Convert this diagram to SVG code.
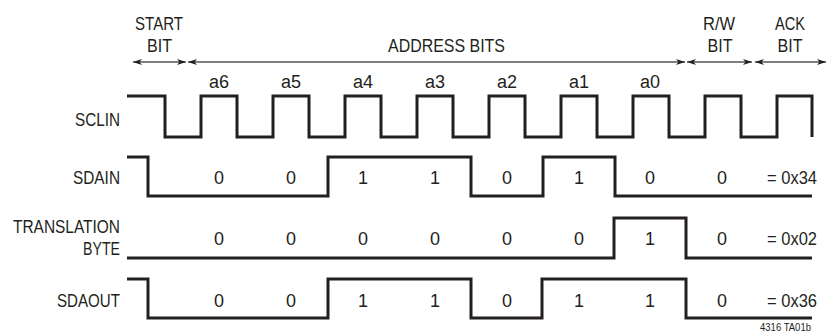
<svg xmlns="http://www.w3.org/2000/svg" width="832" height="333" viewBox="0 0 832 333">
<style>
text{font-family:"Liberation Sans",Arial,sans-serif;fill:#231f20;font-size:19px}
.m{text-anchor:middle}
.e{text-anchor:end}
.d{text-anchor:middle;font-size:18px}
.s{font-size:11px;text-anchor:end}
.sig{fill:none;stroke:#231f20;stroke-width:3;stroke-linejoin:miter;stroke-linecap:butt}
.arr{fill:none;stroke:#555;stroke-width:1.3}
</style>
<defs>
<marker id="ah" markerUnits="userSpaceOnUse" markerWidth="10" markerHeight="6" refX="9" refY="3" orient="auto-start-reverse">
<path d="M0,0 L9,3 L0,6 L2.5,3 Z" fill="#231f20"/>
</marker>
</defs>
<g id="headers">
<text class="m" x="159" y="30" textLength="48" lengthAdjust="spacingAndGlyphs">START</text>
<text class="m" x="159.5" y="52" textLength="25" lengthAdjust="spacingAndGlyphs">BIT</text>
<text class="m" x="446.5" y="52" textLength="117" lengthAdjust="spacingAndGlyphs">ADDRESS BITS</text>
<text class="m" x="719" y="30" textLength="32" lengthAdjust="spacingAndGlyphs">R/W</text>
<text class="m" x="720" y="52" textLength="25" lengthAdjust="spacingAndGlyphs">BIT</text>
<text class="m" x="790" y="30" textLength="30" lengthAdjust="spacingAndGlyphs">ACK</text>
<text class="m" x="790" y="52" textLength="25" lengthAdjust="spacingAndGlyphs">BIT</text>
</g>
<g id="connectors">
<line class="arr" x1="133" y1="62" x2="186" y2="62" marker-start="url(#ah)" marker-end="url(#ah)"/>
<line class="arr" x1="188" y1="62" x2="685" y2="62" marker-start="url(#ah)" marker-end="url(#ah)"/>
<line class="arr" x1="687" y1="62" x2="752" y2="62" marker-start="url(#ah)" marker-end="url(#ah)"/>
<line class="arr" x1="755" y1="62" x2="826" y2="62" marker-start="url(#ah)" marker-end="url(#ah)"/>
</g>
<g id="bitlabels">
<text class="d" x="219" y="88">a6</text>
<text class="d" x="291" y="88">a5</text>
<text class="d" x="363" y="88">a4</text>
<text class="d" x="435" y="88">a3</text>
<text class="d" x="507" y="88">a2</text>
<text class="d" x="579" y="88">a1</text>
<text class="d" x="650" y="88">a0</text>
</g>
<g id="sclin">
<text class="e" x="120" y="126" textLength="45" lengthAdjust="spacingAndGlyphs">SCLIN</text>
<path class="sig" d="M127,96 H165 V137 H201 V96 H237 V137 H273 V96 H309 V137 H345 V96 H381 V137 H417 V96 H453 V137 H489 V96 H525 V137 H561 V96 H597 V137 H633 V96 H669 V137 H705 V96 H741 V137 H777 V96 H812 V137"/>
</g>
<g id="sdain">
<text class="e" x="120" y="184" textLength="47" lengthAdjust="spacingAndGlyphs">SDAIN</text>
<path class="sig" d="M127,157 H148 V196 H328 V157 H471 V196 H543 V157 H615 V196 H812"/>
<text class="d" x="219" y="184">0</text>
<text class="d" x="291" y="184">0</text>
<text class="d" x="363" y="184">1</text>
<text class="d" x="435" y="184">1</text>
<text class="d" x="507" y="184">0</text>
<text class="d" x="579" y="184">1</text>
<text class="d" x="650" y="184">0</text>
<text class="d" x="722" y="184">0</text>
<text class="e" x="817" y="184" textLength="50" lengthAdjust="spacingAndGlyphs">= 0x34</text>
</g>
<g id="translation">
<text class="e" x="120" y="233" textLength="107" lengthAdjust="spacingAndGlyphs">TRANSLATION</text>
<text class="e" x="120" y="255" textLength="37" lengthAdjust="spacingAndGlyphs">BYTE</text>
<path class="sig" d="M127,258 H614 V218 H686 V258 H812"/>
<text class="d" x="219" y="245">0</text>
<text class="d" x="291" y="245">0</text>
<text class="d" x="363" y="245">0</text>
<text class="d" x="435" y="245">0</text>
<text class="d" x="507" y="245">0</text>
<text class="d" x="579" y="245">0</text>
<text class="d" x="650" y="245">1</text>
<text class="d" x="722" y="245">0</text>
<text class="e" x="817" y="245" textLength="50" lengthAdjust="spacingAndGlyphs">= 0x02</text>
</g>
<g id="sdaout">
<text class="e" x="120" y="307" textLength="63" lengthAdjust="spacingAndGlyphs">SDAOUT</text>
<path class="sig" d="M127,279 H148 V318 H328 V279 H471 V318 H542 V279 H686 V318 H812"/>
<text class="d" x="219" y="307">0</text>
<text class="d" x="291" y="307">0</text>
<text class="d" x="363" y="307">1</text>
<text class="d" x="435" y="307">1</text>
<text class="d" x="507" y="307">0</text>
<text class="d" x="579" y="307">1</text>
<text class="d" x="650" y="307">1</text>
<text class="d" x="722" y="307">0</text>
<text class="e" x="817" y="307" textLength="50" lengthAdjust="spacingAndGlyphs">= 0x36</text>
</g>
<text class="s" x="811" y="331" textLength="51" lengthAdjust="spacingAndGlyphs">4316 TA01b</text>
</svg>
